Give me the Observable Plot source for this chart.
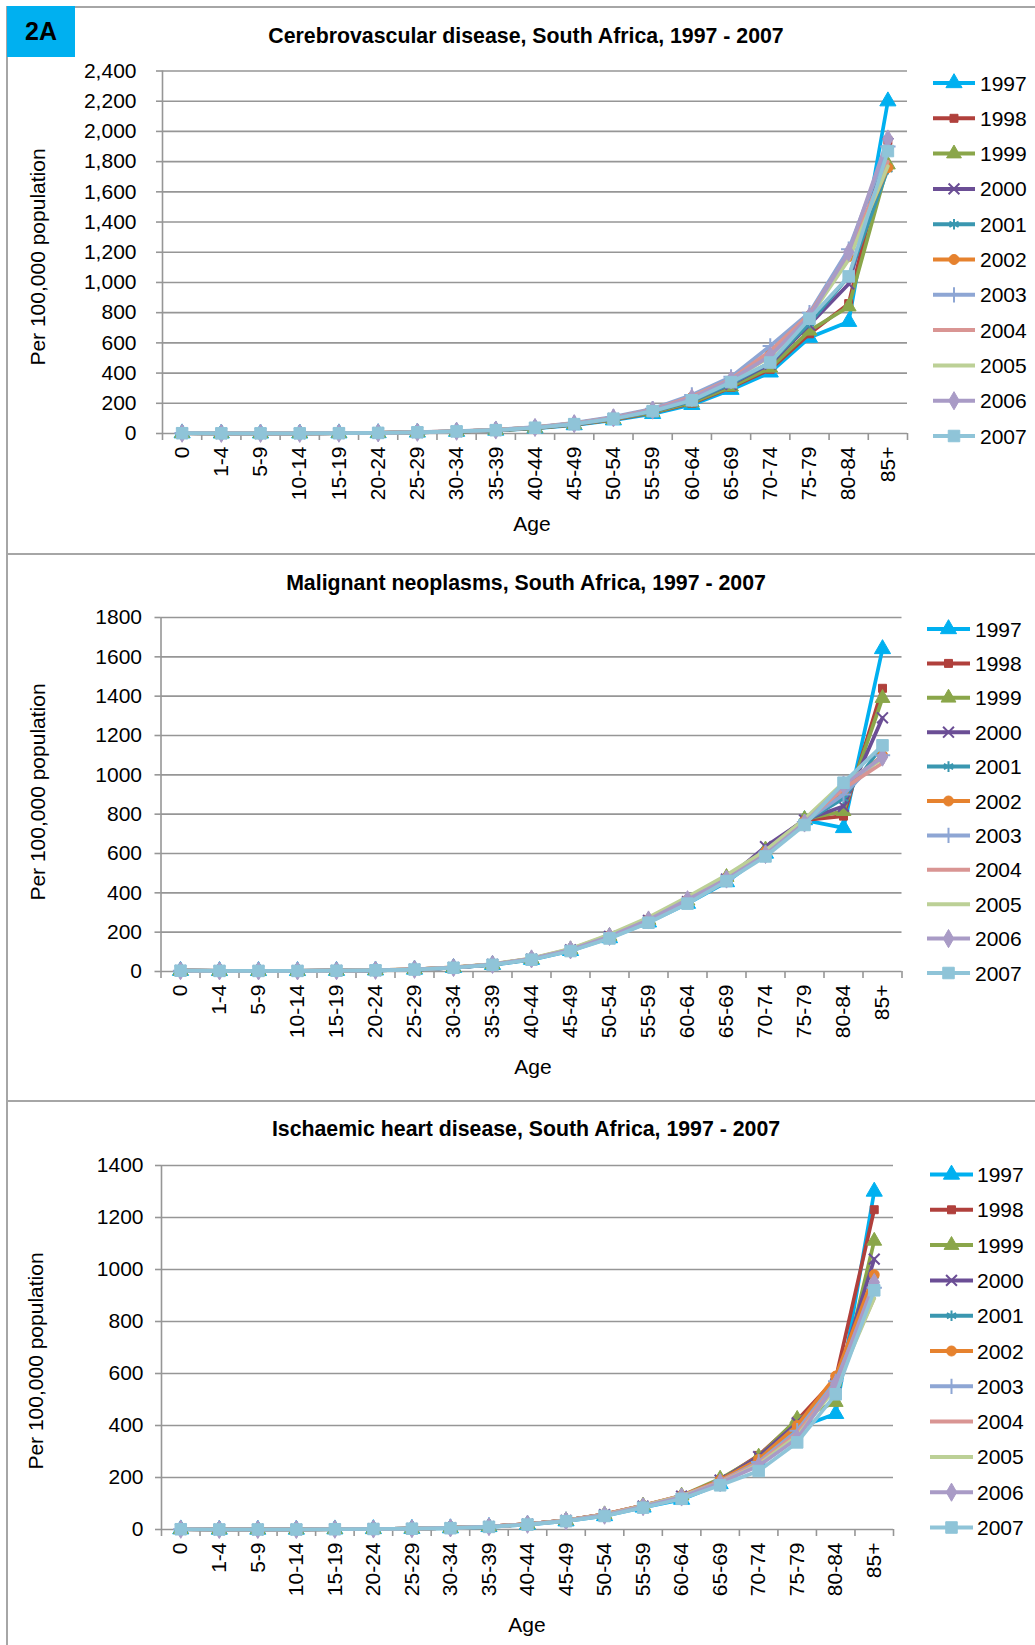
<!DOCTYPE html>
<html><head><meta charset="utf-8">
<script src="https://cdn.jsdelivr.net/npm/d3@7"></script>
<script src="https://cdn.jsdelivr.net/npm/@observablehq/plot@0.6"></script>
<style>
body{margin:0;background:#fff;font-family:"Liberation Sans",Arial,Helvetica,sans-serif;color:#000;}
#page{position:relative;width:1035px;height:1645px;overflow:hidden;background:#fff;}
.abs{position:absolute;}
.hline{position:absolute;height:1.5px;background:#a6a6a6;}
.vline{position:absolute;width:1.5px;background:#a6a6a6;}
.title{position:absolute;font-weight:bold;font-size:21.3px;white-space:nowrap;transform:translate(-50%,-50%);}
.ylab{position:absolute;font-size:21px;white-space:nowrap;transform:translate(-50%,-50%) rotate(-90deg);}
.xlab{position:absolute;font-size:21px;white-space:nowrap;transform:translate(-50%,-50%);}
#badge{position:absolute;left:7px;top:6px;width:68px;height:51px;background:#00B0F0;font-weight:bold;font-size:25px;display:flex;align-items:center;justify-content:center;}
svg{overflow:visible;}
</style>
</head><body>
<div id="page">
  <div class="hline" style="left:7px;top:6px;width:1028px"></div>
  <div class="hline" style="left:7px;top:553px;width:1028px"></div>
  <div class="hline" style="left:7px;top:1100px;width:1028px"></div>
  <div class="vline" style="left:6px;top:6px;height:1639px"></div>
  <div id="badge">2A</div>
</div>
<script>
const ages = ["0","1-4","5-9","10-14","15-19","20-24","25-29","30-34","35-39","40-44","45-49","50-54","55-59","60-64","65-69","70-74","75-79","80-84","85+"];
const years = ["1997","1998","1999","2000","2001","2002","2003","2004","2005","2006","2007"];
const colors = ["#00B0F0","#B0403C","#8AA64A","#6B4E95","#3A97B0","#E6822E","#8EA6D4","#D99593","#BCD096","#A99BC6","#8FC4D8"];
const markers = ["triangle","square","triangle","times","asterisk","circle","plus",null,null,"diamond","square"];
const markerR = [6,4.5,5.5,5,5,5,5,0,0,5.5,6.5];

const titles = ["Cerebrovascular disease, South Africa, 1997 - 2007","Malignant neoplasms, South Africa, 1997 - 2007","Ischaemic heart disease, South Africa, 1997 - 2007"];
const yTicks1 = [0,200,400,600,800,1000,1200,1400,1600,1800,2000,2200,2400];
const yTicks2 = [0,200,400,600,800,1000,1200,1400,1600,1800];
const yTicks3 = [0,200,400,600,800,1000,1200,1400];

// Cerebrovascular disease, per 100,000 (rows: 1997..2007, columns: ages)
const cerebrovascular = [
 [2,1,1,1,2,3,7,12,20,34,56,88,130,190,290,405,635,740,2200],
 [2,1,1,1,2,4,7,13,21,36,58,92,138,200,305,425,660,860,1940],
 [2,1,1,1,2,4,8,13,21,36,60,94,140,205,310,435,680,840,1780],
 [2,1,1,1,2,4,8,14,22,38,62,98,146,215,325,460,720,990,1920],
 [2,1,1,1,2,4,8,14,22,38,62,98,146,215,330,470,730,1040,1750],
 [3,1,1,1,2,4,9,15,24,41,68,106,158,240,355,530,780,1170,1760],
 [3,1,1,1,2,4,9,16,25,43,70,110,164,255,375,580,800,1220,1900],
 [3,1,1,1,2,4,9,15,24,41,67,106,158,245,360,545,790,1190,1800],
 [2,1,1,1,2,4,8,15,23,40,65,102,152,230,350,510,770,1150,1770],
 [2,1,1,1,2,4,8,15,23,40,65,104,155,235,355,515,775,1200,1950],
 [2,1,1,1,2,4,8,14,22,38,62,98,148,220,340,470,760,1040,1870]
];
// Malignant neoplasms
const neoplasms = [
 [4,3,3,3,4,6,10,19,34,60,105,170,250,345,455,600,770,730,1640],
 [4,3,3,3,4,6,10,20,35,62,108,175,255,350,460,610,770,790,1440],
 [4,3,3,3,4,6,11,20,36,64,112,180,262,360,480,620,775,815,1390],
 [4,3,3,3,4,6,11,20,36,63,110,178,260,355,470,635,770,840,1290],
 [4,3,3,3,4,6,10,20,35,62,108,175,255,350,460,615,760,880,1150],
 [5,3,3,3,4,7,11,21,37,65,112,182,265,365,475,610,765,920,1100],
 [4,3,3,3,4,6,11,20,36,64,110,180,262,360,470,605,760,900,1100],
 [5,3,3,3,4,7,11,21,37,66,114,184,268,370,480,605,760,930,1060],
 [5,3,3,3,4,7,11,21,38,67,116,188,275,380,490,615,775,960,1080],
 [4,3,3,3,4,6,11,20,36,64,110,178,262,365,470,595,755,950,1090],
 [4,3,3,3,4,6,10,19,34,60,104,168,248,345,460,585,745,960,1150]
];
// Ischaemic heart disease
const ischaemic = [
 [1,0,0,0,1,2,3,5,10,19,32,52,85,115,175,260,390,445,1300],
 [1,0,0,0,1,2,3,6,11,21,35,58,92,125,190,285,420,580,1230],
 [1,0,0,0,1,2,3,6,11,21,35,58,92,130,195,280,425,490,1110],
 [1,0,0,0,1,2,3,6,11,21,35,57,90,128,190,280,410,560,1040],
 [1,0,0,0,1,2,3,6,11,20,34,56,88,125,185,270,400,550,960],
 [1,0,0,0,1,2,3,6,11,21,35,58,92,130,190,270,400,590,980],
 [1,0,0,0,1,2,3,6,11,20,34,57,90,128,185,260,380,570,930],
 [1,0,0,0,1,2,3,6,11,21,35,58,92,130,185,255,370,560,890],
 [1,0,0,0,1,2,3,6,11,20,34,56,90,128,180,250,360,545,890],
 [1,0,0,0,1,2,3,6,11,20,33,55,88,125,180,245,350,560,950],
 [1,0,0,0,1,2,3,5,10,19,32,52,84,118,170,225,335,520,920]
];

const page = document.getElementById("page");
const GRID = "#969696";
const FONT = "'Liberation Sans', Arial, Helvetica, sans-serif";

const panels = [
  {values: cerebrovascular, ticks: yTicks1, fmt: d3.format(","), top: 0, plotTop: 70.5, plotBottom: 433, left: 162, right: 907, tickPad: 20,
   title: [526, 36], ylab: [38, 257], age: [532, 524], leg: {x0: 933, x1: 975, tx: 980, y0: 83, dy: 35.3}},
  {values: neoplasms, ticks: yTicks2, fmt: d3.format("d"), top: 553, plotTop: 617, plotBottom: 971, left: 160.5, right: 901.5, tickPad: 13,
   title: [526, 583], ylab: [38, 792], age: [533, 1067], leg: {x0: 927, x1: 970, tx: 975, y0: 629, dy: 34.4}},
  {values: ischaemic, ticks: yTicks3, fmt: d3.format("d"), top: 1100, plotTop: 1165, plotBottom: 1529, left: 161, right: 893, tickPad: 12,
   title: [526, 1129], ylab: [36, 1361], age: [527, 1625], leg: {x0: 930, x1: 973, tx: 977, y0: 1174.5, dy: 35.3}}
];

function addText(cls, txt, x, y) {
  const d = document.createElement("div");
  d.className = cls; d.textContent = txt;
  d.style.left = x + "px"; d.style.top = y + "px";
  page.appendChild(d);
}

const fillSymbols = new Set(["triangle","square","circle","diamond"]);

panels.forEach((p, pi) => {
  const W = 930, MB = 75;
  const height = p.plotBottom - p.top + MB;
  const marks = [
    Plot.ruleY(p.ticks, {stroke: GRID, strokeWidth: 1.6}),
    Plot.axisY({ticks: p.ticks, tickSize: 6, tickPadding: p.tickPad, tickFormat: p.fmt, label: null, stroke: GRID, strokeWidth: 1.6, fill: "#000", fontSize: 21}),
    Plot.ruleX([0], {stroke: GRID, strokeWidth: 1.6}),
    Plot.axisX({ticks: d3.range(ages.length + 1), tickSize: 7, tickFormat: () => "", label: null, stroke: GRID, strokeWidth: 1.6}),
    Plot.axisX({ticks: d3.range(ages.length).map(i => i + 0.5), tickSize: 0, tickPadding: 13, tickRotate: -90, label: null,
      tickFormat: t => ages[Math.floor(t)], fill: "#000", fontSize: 21})
  ];
  years.forEach((yr, k) => {
    const rows = p.values[k].map((v, i) => ({i, year: yr, value: v}));
    marks.push(Plot.line(rows, {x: d => d.i + 0.5, y: "value", stroke: colors[k], strokeWidth: 3.7, strokeLinejoin: "round"}));
    if (markers[k]) {
      const filled = fillSymbols.has(markers[k]);
      marks.push(Plot.dot(rows, {x: d => d.i + 0.5, y: "value", symbol: markers[k], r: markerR[k],
        fill: filled ? colors[k] : "none", stroke: colors[k], strokeWidth: filled ? 1 : 2}));
    }
  });
  const svg = Plot.plot({
    width: W, height,
    marginTop: p.plotTop - p.top, marginBottom: MB, marginLeft: p.left, marginRight: W - p.right,
    x: {type: "linear", domain: [0, ages.length], label: null},
    y: {type: "linear", domain: [0, p.ticks[p.ticks.length - 1]], label: null},
    style: {fontFamily: FONT, fontSize: "21px", color: "#000", background: "transparent", overflow: "visible"},
    marks
  });
  svg.style.position = "absolute";
  svg.style.left = "0px";
  svg.style.top = p.top + "px";
  page.appendChild(svg);

  addText("title", titles[pi], p.title[0], p.title[1]);
  addText("ylab", "Per 100,000 population", p.ylab[0], p.ylab[1]);
  addText("xlab", "Age", p.age[0], p.age[1]);

  // legend
  const L = p.leg;
  const lg = d3.create("svg").attr("width", 1035).attr("height", 1645)
    .style("position", "absolute").style("left", "0px").style("top", "0px").style("pointer-events", "none");
  const typeMap = {triangle: d3.symbolTriangle, square: d3.symbolSquare, circle: d3.symbolCircle, diamond: d3.symbolDiamond,
    times: d3.symbolTimes, asterisk: d3.symbolAsterisk, plus: d3.symbolPlus};
  years.forEach((yr, k) => {
    const y = L.y0 + k * L.dy;
    const g = lg.append("g");
    g.append("line").attr("x1", L.x0).attr("x2", L.x1).attr("y1", y).attr("y2", y)
      .attr("stroke", colors[k]).attr("stroke-width", 4);
    if (markers[k]) {
      const filled = fillSymbols.has(markers[k]);
      const r = markerR[k];
      g.append("path").attr("transform", `translate(${(L.x0 + L.x1) / 2},${y})`)
        .attr("d", d3.symbol(typeMap[markers[k]], Math.PI * r * r)())
        .attr("fill", filled ? colors[k] : "none").attr("stroke", colors[k]).attr("stroke-width", filled ? 1 : 2);
    }
    g.append("text").attr("x", L.tx).attr("y", y).attr("dy", "0.36em").text(yr)
      .attr("font-family", FONT).attr("font-size", 21).attr("fill", "#000");
  });
  page.appendChild(lg.node());
});
</script>
</body></html>
